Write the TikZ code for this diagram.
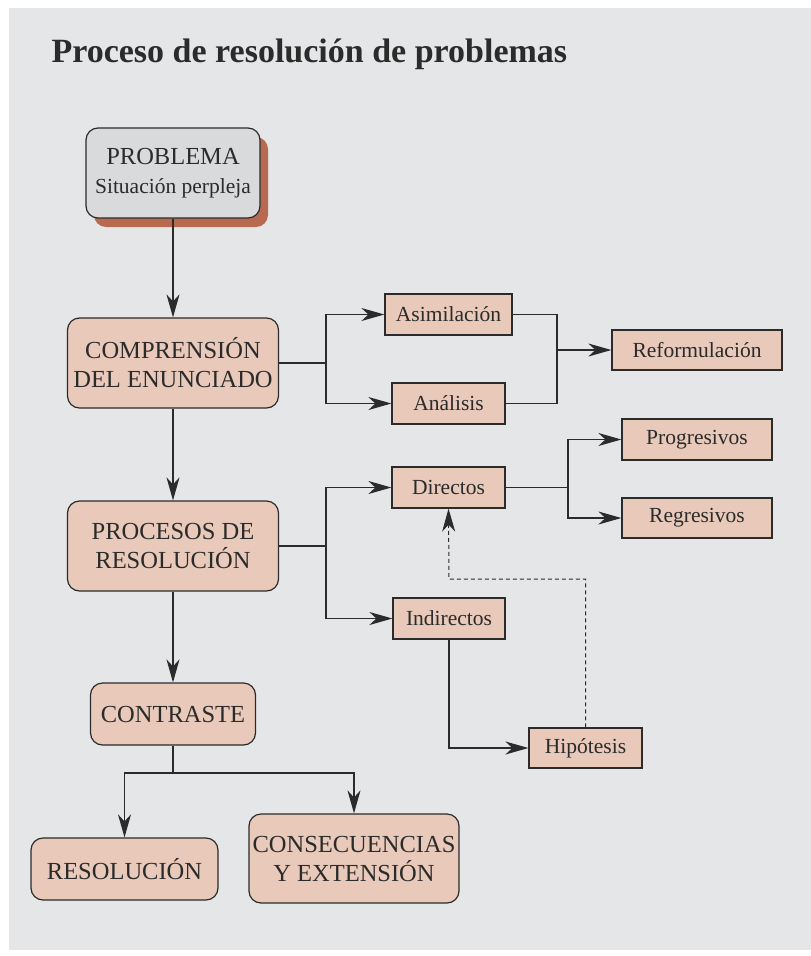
\documentclass[tikz,border=0pt]{standalone}
\usepackage{fontspec}
\setmainfont{Liberation Serif}
\usepackage{xcolor}
\usetikzlibrary{arrows.meta,shadows}
\definecolor{panel}{HTML}{E5E6E8}
\definecolor{salmon}{HTML}{E8C9BA}
\definecolor{greyfill}{HTML}{D9DADC}
\definecolor{shadowc}{HTML}{B86A50}
\definecolor{ink}{HTML}{2B2B2B}

\begin{document}
\begin{tikzpicture}[x=1pt,y=-1pt,
    bigbox/.style={draw=ink,fill=salmon,rounded corners=12pt,line width=1.2pt,inner sep=0pt,
      align=center,text=ink,font=\fontsize{24.5}{29}\selectfont},
    smallbox/.style={draw=ink,fill=salmon,line width=1.2pt,inner sep=0pt,minimum height=41pt,
      text=ink,font=\fontsize{21.5}{25}\selectfont},
    lin/.style={draw=ink,line width=1.2pt},
    arr/.style={lin,-{Stealth[length=23pt,width=13pt,inset=7pt]}},
    darr/.style={arr,line width=1pt,dash pattern=on 4pt off 3pt}]
    \useasboundingbox (0,0) rectangle (811,956);
    \fill[panel] (9,8) rectangle (811,950);
    \node[anchor=base west,text=ink,font=\bfseries\fontsize{34}{40}\selectfont] (title) at (48,62)
      {Proceso de resolución de problemas};

    \node[bigbox,fill=greyfill,minimum width=174pt,minimum height=90pt,
      drop shadow={shadow xshift=8pt,shadow yshift=-9pt,fill=shadowc,opacity=1}] (prob) at (173,173)
      {PROBLEMA\\{\fontsize{21.5}{29}\selectfont Situación perpleja}};
    \node[bigbox,minimum width=211pt,minimum height=90pt] (comp) at (173,363) {COMPRENSIÓN\\DEL ENUNCIADO};
    \node[bigbox,minimum width=211pt,minimum height=90pt] (proc) at (173,546) {PROCESOS DE\\RESOLUCIÓN};
    \node[bigbox,minimum width=165pt,minimum height=62pt] (contr) at (173,714) {CONTRASTE};
    \node[bigbox,minimum width=187pt,minimum height=62pt] (resol) at (124.5,869) {RESOLUCIÓN};
    \node[bigbox,minimum width=210pt,minimum height=89pt] (conse) at (354,858.5) {CONSECUENCIAS\\Y EXTENSIÓN};

    \node[smallbox,minimum width=127pt] (asim) at (448.5,314.5) {Asimilación};
    \node[smallbox,minimum width=113pt] (anal) at (448.5,403.5) {Análisis};
    \node[smallbox,minimum width=170pt,minimum height=40pt] (reform) at (697,350) {Reformulación};
    \node[smallbox,minimum width=113pt] (direc) at (448.5,487.5) {Directos};
    \node[smallbox,minimum width=112pt] (indir) at (449,618.5) {Indirectos};
    \node[smallbox,minimum width=150pt] (progr) at (697,439.5) {Progresivos};
    \node[smallbox,minimum width=150pt,minimum height=40pt] (regr) at (697,518) {Regresivos};
    \node[smallbox,minimum width=113pt,minimum height=40pt] (hipot) at (585.5,748) {Hipótesis};

    \coordinate (j1) at (326,363);
    \coordinate (j2) at (557,350);
    \coordinate (j3) at (326,546);
    \coordinate (j4) at (568,487.5);
    \coordinate (j5) at (173,773);
    \coordinate (kink) at (449,579);

    \draw[arr] (prob) -- (comp);
    \draw[arr] (comp) -- (proc);
    \draw[arr] (proc) -- (contr);
    \draw[lin] (comp.east) -- (j1);
    \draw[arr] (j1) |- (asim.west);
    \draw[arr] (j1) |- (anal.west);
    \draw[lin] (asim.east) -| (j2) |- (anal.east);
    \draw[arr] (j2) -- (reform.west);
    \draw[lin] (proc.east) -- (j3);
    \draw[arr] (j3) |- (direc.west);
    \draw[arr] (j3) |- (indir.west);
    \draw[lin] (direc.east) -- (j4);
    \draw[arr] (j4) |- (progr.west);
    \draw[arr] (j4) |- (regr.west);
    \draw[arr] (indir.south) |- (hipot.west);
    \draw[darr] (hipot.north) |- (kink) -- (direc.south);
    \draw[lin] (contr.south) -- (j5);
    \draw[arr] (j5) -| (resol.north);
    \draw[arr] (j5) -| (conse.north);
\end{tikzpicture}
\end{document}
